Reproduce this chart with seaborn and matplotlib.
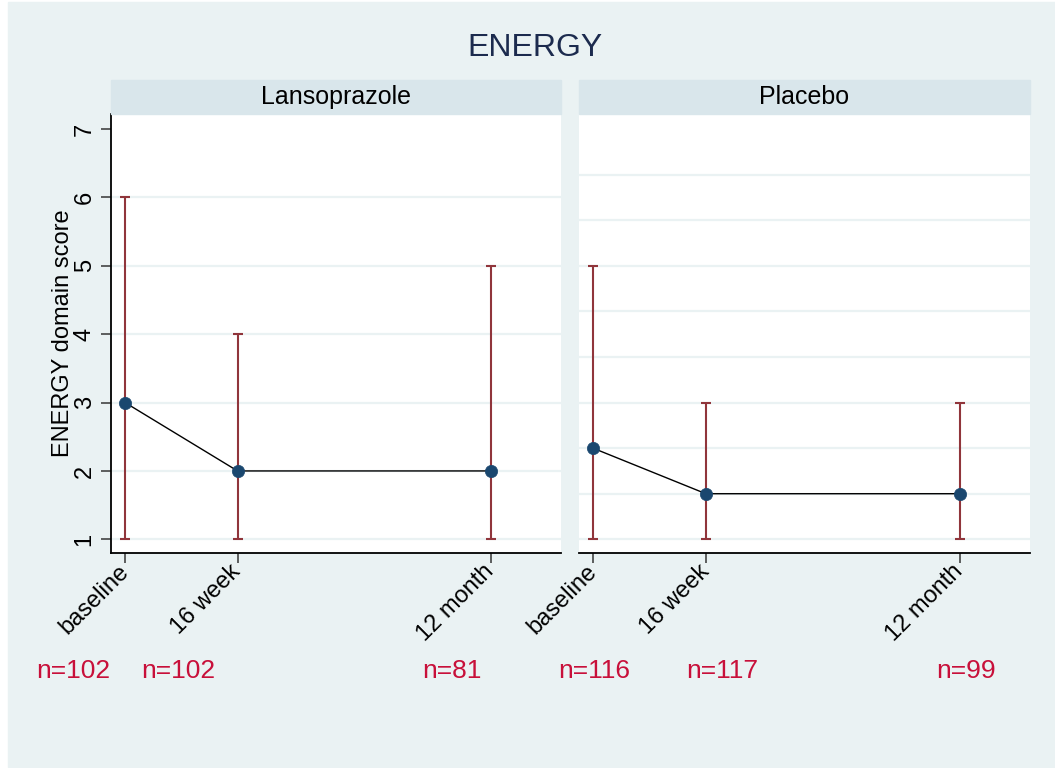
import numpy as np
import pandas as pd
import seaborn as sns
import matplotlib.pyplot as plt
from matplotlib.patches import Rectangle

# data
groups = ["Lansoprazole", "Placebo"]
time_labels = ["baseline", "16 week", "12 month"]
weeks = [0, 16, 52]
centre = {"Lansoprazole": [3.0, 2.0, 2.0], "Placebo": [2.333, 1.667, 1.667]}
low = {"Lansoprazole": [1, 1, 1], "Placebo": [1, 1, 1]}
high = {"Lansoprazole": [6, 4, 5], "Placebo": [5, 3, 3]}
n_obs = {"Lansoprazole": [102, 102, 81], "Placebo": [116, 117, 99]}

rows = []
for g in groups:
    for i, w in enumerate(weeks):
        rows.append({"group": g, "weeks": w, "score": centre[g][i],
                     "lo": low[g][i], "hi": high[g][i], "n": n_obs[g][i]})
df = pd.DataFrame(rows)

sns.set_style("white")
plt.rcParams["font.family"] = ["Liberation Sans", "DejaVu Sans"]
plt.rcParams["text.color"] = "black"
plt.rcParams["axes.labelcolor"] = "black"
plt.rcParams["xtick.color"] = "black"
plt.rcParams["ytick.color"] = "black"

W, H = 1055, 768
BG = "#EAF2F3"
STRIP = "#D9E6EB"
BAR = "#90353B"
DOT = "#1A476F"
NRED = "#C8103A"

fig = plt.figure(figsize=(W / 100, H / 100), dpi=100, facecolor="white")
fig.patches.append(Rectangle((8 / W, 1 / H), 1 - 8 / W, 1 - 3 / H,
                             transform=fig.transFigure, color=BG, zorder=-10))

# axes boxes in pixels: left, right, top, bottom
boxes = [(111, 561, 114, 553), (579, 1030, 114, 553)]
# n label centres in pixels (x), placed under each panel
n_xpix = {"Lansoprazole": [73, 178, 452], "Placebo": [594, 722, 966]}

for k, g in enumerate(groups):
    l, r, t, b = boxes[k]
    ax = fig.add_axes([l / W, 1 - b / H, (r - l) / W, (b - t) / H])
    ax.set_facecolor("white")
    sub = df[df.group == g]

    if k == 0:
        grid = np.arange(1, 7)
    else:
        grid = 1 + np.arange(0, 9) * 2 / 3
    for gy in grid:
        ax.axhline(gy, color=BG, lw=1.6, zorder=0)

    sns.lineplot(data=sub, x="weeks", y="score", color="black", lw=1.0,
                 errorbar=None, ax=ax, zorder=2)
    ax.errorbar(sub.weeks, (sub.lo + sub.hi) / 2, yerr=(sub.hi - sub.lo) / 2,
                fmt="none", ecolor=BAR, elinewidth=1.5, capsize=3.8,
                capthick=1.5, zorder=3)
    sns.scatterplot(data=sub, x="weeks", y="score", color=DOT, s=78,
                    edgecolor=DOT, linewidth=0.5, ax=ax, zorder=4)

    ax.set_xlim(-2, 62)
    ax.set_ylim(0.8, 7.22)
    ax.set_xticks(weeks)
    ax.set_xticklabels(time_labels, rotation=45, ha="right", va="center",
                       rotation_mode="anchor", fontsize=17)
    ax.set_xlabel("")
    for s in ["top", "right"]:
        ax.spines[s].set_visible(False)
    ax.spines["bottom"].set_color("black")
    ax.spines["bottom"].set_linewidth(1.3)
    ax.tick_params(axis="x", direction="out", length=7, width=1.2,
                   color="#444444", pad=4, bottom=True)

    if k == 0:
        ax.set_yticks(range(1, 8))
        ax.set_yticklabels([str(v) for v in range(1, 8)], rotation=90,
                           va="center", fontsize=17)
        ax.tick_params(axis="y", direction="out", length=7, width=1.2,
                       color="#444444", pad=4, left=True)
        ax.spines["left"].set_color("black")
        ax.spines["left"].set_linewidth(1.3)
        ax.set_ylabel("ENERGY domain score", fontsize=17, labelpad=0)
    else:
        ax.set_yticks([])
        ax.spines["left"].set_visible(False)
        ax.set_ylabel("")

    sh = 34 / (b - t)
    ax.add_patch(Rectangle((0, 1), 1, sh, transform=ax.transAxes,
                           color=STRIP, clip_on=False, zorder=5))
    ax.text(0.5, 1 + sh / 2, g, transform=ax.transAxes, ha="center",
            va="center", fontsize=18, color="black", zorder=6)

    for i, nv in enumerate(sub.n):
        fig.text(n_xpix[g][i] / W, 1 - 671 / H, f"n={nv}", ha="center",
                 va="center", fontsize=19, color=NRED)

fig.text(0.507, 1 - 48 / H, "ENERGY", ha="center", va="center",
         fontsize=23, color="#1C2B4E")

plt.savefig("out.png", dpi=100, facecolor="white")
